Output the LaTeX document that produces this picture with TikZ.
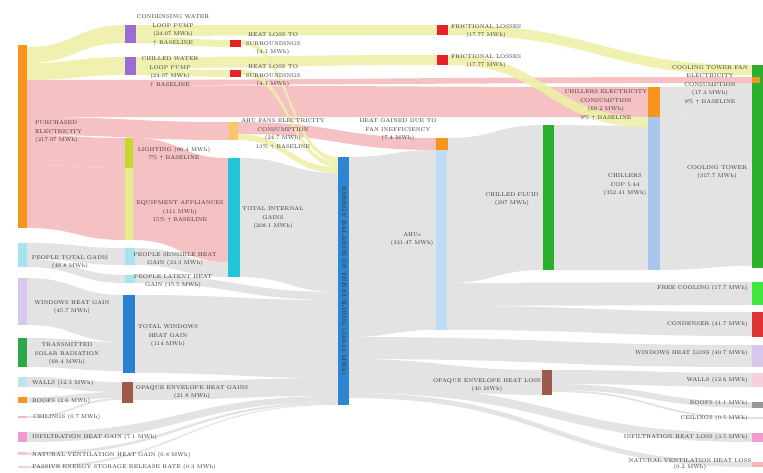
\documentclass[tikz,border=0pt]{standalone}
\usetikzlibrary{calc,backgrounds}

\definecolor{elec}{HTML}{F7941D}
\definecolor{pump}{HTML}{9C6CD6}
\definecolor{loss}{HTML}{E8202A}
\definecolor{lightg}{HTML}{C5D62E}
\definecolor{equipc}{HTML}{E6EC8A}
\definecolor{people}{HTML}{A8E4EF}
\definecolor{windowc}{HTML}{D9C8EC}
\definecolor{solar}{HTML}{2AA84A}
\definecolor{wallc}{HTML}{BFE3F0}
\definecolor{infc}{HTML}{F09AD0}
\definecolor{winblue}{HTML}{2A80D0}
\definecolor{opaque}{HTML}{9E5A48}
\definecolor{intern}{HTML}{22C4D8}
\definecolor{ahufan}{HTML}{F6C86A}
\definecolor{balance}{HTML}{2E86D0}
\definecolor{ahuc}{HTML}{BCDCF5}
\definecolor{chill}{HTML}{2AB02A}
\definecolor{copc}{HTML}{A9C6EF}
\definecolor{freec}{HTML}{3EE83E}
\definecolor{condc}{HTML}{E03535}
\definecolor{wallr}{HTML}{F8D0DC}
\definecolor{grayband}{HTML}{DEDEDE}
\definecolor{pinkband}{HTML}{F4B6B8}
\definecolor{yelband}{HTML}{EEF0A8}
\definecolor{txt}{HTML}{333333}

% flow band: from, top, bottom, to, top, bottom, style
\newcommand{\band}[7]{%
  \fill[#7] let \p1=(#1.east), \p2=(#4.west), \n1={0.5*(\x2-\x1)} in
    (\x1,#2) .. controls +(\n1,0) and +(-\n1,0) .. (\x2,#5)
    -- (\x2,#6) .. controls +(-\n1,0) and +(\n1,0) .. (\x1,#3) -- cycle;}

\begin{document}
\begin{tikzpicture}[
    x=1pt, y=-1pt,
    bar/.style={draw=none,inner sep=0pt,outer sep=0pt,anchor=north west,minimum width=10pt},
    lbl/.style={font=\fontsize{5.5}{8.5}\selectfont,text=txt,align=center,inner sep=0pt},
    gband/.style={fill=grayband,fill opacity=0.85},
    pband/.style={fill=pinkband,fill opacity=0.85},
    yband/.style={fill=yelband,fill opacity=0.9}
    ]
    \useasboundingbox (0,0) rectangle (763,472);

    % leftmost column:
    \node (pe) at (18,45) [bar,fill=elec,minimum width=9pt,minimum height=183pt] {};
    \node (ptg) at (18,243) [bar,fill=people,minimum width=9pt,minimum height=24pt] {};
    \node (whg) at (18,278) [bar,fill=windowc,minimum width=9pt,minimum height=47pt] {};
    \node (tsr) at (18,338) [bar,fill=solar,minimum width=9pt,minimum height=29pt] {};
    \node (wallsl) at (18,377) [bar,fill=wallc,minimum width=9pt,minimum height=10pt] {};
    \node (roofsl) at (18,397) [bar,fill=elec,minimum width=9pt,minimum height=6pt] {};
    \node (ceill) at (18,416) [bar,fill=pinkband,minimum width=9pt,minimum height=2pt] {};
    \node (infl) at (18,432) [bar,fill=infc,minimum width=9pt,minimum height=10pt] {};
    \node (natl) at (18,452) [bar,fill=infc!60,minimum width=9pt,minimum height=3pt] {};
    \node (passl) at (18,466) [bar,fill=pinkband!70,minimum width=9pt,minimum height=2pt] {};

    % second column:
    \node (cwp) at (125,25) [bar,fill=pump,minimum width=11pt,minimum height=18pt] {};
    \node (chwp) at (125,57) [bar,fill=pump,minimum width=11pt,minimum height=18pt] {};
    \node (light) at (125,138) [bar,fill=lightg,minimum width=8pt,minimum height=30pt] {};
    \node (equip) at (125,168) [bar,fill=equipc,minimum width=8pt,minimum height=72pt] {};
    \node (psh) at (125,248) [bar,fill=people,minimum height=17pt] {};
    \node (plh) at (125,275) [bar,fill=people,minimum height=8pt] {};
    \node (twhg) at (123,295) [bar,fill=winblue,minimum width=12pt,minimum height=78pt] {};
    \node (oehg) at (122,382) [bar,fill=opaque,minimum width=11pt,minimum height=21pt] {};

    % third column:
    \node (hl1) at (230,40) [bar,fill=loss,minimum width=11pt,minimum height=7pt] {};
    \node (hl2) at (230,70) [bar,fill=loss,minimum width=11pt,minimum height=7pt] {};
    \node (ahuf) at (229,122) [bar,fill=ahufan,minimum width=9pt,minimum height=18pt] {};
    \node (tig) at (228,158) [bar,fill=intern,minimum width=12pt,minimum height=119pt] {};

    % energy balance:
    \node (eb) at (338,157) [bar,fill=balance,minimum width=11pt,minimum height=248pt] {};

    % fifth column:
    \node (fl1) at (437,25) [bar,fill=loss,minimum width=11pt,minimum height=10pt] {};
    \node (fl2) at (437,55) [bar,fill=loss,minimum width=11pt,minimum height=10pt] {};
    \node (hgfi) at (436,138) [bar,fill=elec,minimum width=12pt,minimum height=12pt] {};
    \node (ahus) at (436,150) [bar,fill=ahuc,minimum width=11pt,minimum height=180pt] {};

    % sixth column:
    \node (cf) at (543,125) [bar,fill=chill,minimum width=11pt,minimum height=145pt] {};
    \node (oehl) at (542,370) [bar,fill=opaque,minimum height=25pt] {};

    % chillers:
    \node (chel) at (648,87) [bar,fill=elec,minimum width=12pt,minimum height=30pt] {};
    \node (cop) at (648,117) [bar,fill=copc,minimum width=12pt,minimum height=153pt] {};

    % rightmost column:
    \node (ct) at (752,65) [bar,fill=chill,minimum width=11pt,minimum height=203pt] {};
    \node (ctf) at (752,77) [bar,fill=elec,minimum width=8pt,minimum height=6pt] {};
    \node (fc) at (752,282) [bar,fill=freec,minimum width=11pt,minimum height=23pt] {};
    \node (cond) at (752,312) [bar,fill=condc,minimum width=11pt,minimum height=25pt] {};
    \node (whl) at (752,345) [bar,fill=windowc,minimum width=11pt,minimum height=22pt] {};
    \node (wallsr) at (752,373) [bar,fill=wallr,minimum width=11pt,minimum height=14pt] {};
    \node (roofsr) at (752,402) [bar,fill=gray!80,minimum width=11pt,minimum height=6pt] {};
    \node (ceilr) at (752,417) [bar,fill=grayband,minimum width=11pt,minimum height=2pt] {};
    \node (infr) at (752,433) [bar,fill=infc,minimum width=11pt,minimum height=9pt] {};
    \node (natr) at (752,462) [bar,fill=pinkband,minimum width=11pt,minimum height=5pt] {};

    % flows:
    \begin{pgfonlayer}{background}
    \band{ptg}{243}{259}{psh}{248}{265}{gband}
    \band{ptg}{259}{267}{plh}{275}{283}{gband}
    \band{psh}{248}{265}{tig}{262}{277}{gband}
    \band{whg}{278}{325}{twhg}{295}{342}{gband}
    \band{tsr}{338}{367}{twhg}{342}{371}{gband}
    \band{wallsl}{377}{387}{oehg}{382}{392}{gband}
    \band{roofsl}{397}{403}{oehg}{392}{398}{gband}
    \band{ceill}{416}{418}{oehg}{398}{400}{gband}
    \band{tig}{158}{277}{eb}{173}{292}{gband}
    \band{plh}{275}{283}{eb}{292}{300}{gband}
    \band{twhg}{295}{373}{eb}{300}{378}{gband}
    \band{oehg}{382}{400}{eb}{378}{396}{gband}
    \band{infl}{432}{442}{eb}{396}{402}{gband}
    \band{natl}{452}{455}{eb}{402}{404}{gband}
    \band{passl}{466}{468}{eb}{404}{405}{gband}
    \band{eb}{157}{337}{ahus}{150}{330}{gband}
    \band{eb}{337}{359}{whl}{345}{367}{gband}
    \band{eb}{359}{384}{oehl}{370}{395}{gband}
    \band{eb}{384}{393}{infr}{433}{442}{gband}
    \band{eb}{393}{398}{natr}{462}{467}{gband}
    \band{hgfi}{138}{150}{cf}{125}{137}{gband}
    \band{ahus}{150}{283}{cf}{137}{270}{gband}
    \band{ahus}{283}{306}{fc}{282}{305}{gband}
    \band{ahus}{306}{330}{cond}{312}{336}{gband}
    \band{cf}{125}{270}{cop}{126}{270}{gband}
    \band{oehl}{370}{384}{wallsr}{373}{387}{gband}
    \band{oehl}{384}{390}{roofsr}{402}{408}{gband}
    \band{oehl}{390}{392}{ceilr}{417}{419}{gband}
    \band{chel}{87}{117}{ct}{83}{113}{gband}
    \band{cop}{117}{270}{ct}{113}{266}{gband}

    \band{pe}{80}{85}{ctf}{77}{83}{pband}
    \band{pe}{85}{117}{chel}{87}{117}{pband}
    \band{pe}{117}{135}{ahuf}{122}{140}{pband}
    \band{pe}{135}{165}{light}{138}{168}{pband}
    \band{pe}{165}{228}{equip}{168}{240}{pband}
    \band{light}{138}{168}{tig}{158}{188}{pband}
    \band{equip}{168}{240}{tig}{188}{262}{pband}
    \band{ahuf}{122}{134}{hgfi}{138}{150}{pband}

    \band{pe}{47}{63}{cwp}{25}{43}{yband}
    \band{pe}{63}{80}{chwp}{57}{75}{yband}
    \band{cwp}{25}{36}{fl1}{25}{35}{yband}
    \band{cwp}{36}{43}{hl1}{40}{47}{yband}
    \band{chwp}{57}{68}{fl2}{55}{65}{yband}
    \band{chwp}{68}{75}{hl2}{70}{77}{yband}
    \band{fl1}{25}{35}{ct}{65}{75}{yband}
    \band{fl2}{55}{65}{cop}{117}{127}{yband}
    \band{hl1}{40}{45}{eb}{157}{162}{yband}
    \band{hl2}{70}{75}{eb}{162}{167}{yband}
    \band{ahuf}{134}{140}{eb}{167}{173}{yband}
    \end{pgfonlayer}

    % labels:
    \node (pe-l) at (35,132) [lbl,anchor=west,align=left] {PURCHASED\\ELECTRICITY\\(217.97 MWh)};
    \node (cwp-l) at (173,30) [lbl] {CONDENSING WATER\\LOOP PUMP\\(24.07 MWh)\\$\uparrow$ BASELINE};
    \node (chwp-l) at (170,72) [lbl] {CHILLED WATER\\LOOP PUMP\\(24.07 MWh)\\$\uparrow$ BASELINE};
    \node (hl1-l) at (273,44) [lbl] {HEAT LOSS TO\\SURROUNDINGS\\(4.1 MWh)};
    \node (hl2-l) at (273,76) [lbl] {HEAT LOSS TO\\SURROUNDINGS\\(4.1 MWh)};
    \node (fl1-l) at (486,31) [lbl] {FRICTIONAL LOSSES\\(17.77 MWh)};
    \node (fl2-l) at (486,61) [lbl] {FRICTIONAL LOSSES\\(17.77 MWh)};
    \node (ahuf-l) at (283,134) [lbl] {AHU FANS ELECTRICITY\\CONSUMPTION\\(24.7 MWh)\\13\% $\uparrow$ BASELINE};
    \node (hgfi-l) at (398,130) [lbl] {HEAT GAINED DUE TO\\FAN INEFFICIENCY\\(7.4 MWh)};
    \node (chel-l) at (606,105) [lbl] {CHILLERS ELECTRICITY\\CONSUMPTION\\(69.2 MWh)\\9\% $\uparrow$ BASELINE};
    \node (ctf-l) at (710,85) [lbl] {COOLING TOWER FAN\\ELECTRICITY\\CONSUMPTION\\(17.3 MWh)\\9\% $\uparrow$ BASELINE};
    \node (ct-l) at (717,172) [lbl] {COOLING TOWER\\(317.7 MWh)};
    \node (cop-l) at (625,185) [lbl] {CHILLERS\\COP 5.44\\(352.41 MWh)};
    \node (cf-l) at (512,199) [lbl] {CHILLED FLUID\\(297 MWh)};
    \node (ahus-l) at (412,239) [lbl] {AHUs\\(331.47 MWh)};
    \node (tig-l) at (273,218) [lbl] {TOTAL INTERNAL\\GAINS\\(208.1 MWh)};
    \node (eb-l) at (343.5,281) [lbl,rotate=-90,font=\fontsize{6}{7}\selectfont] {ENERGY BALANCE OF THE BUILDING (348.12 MWh)};
    \node (light-l) at (174,154) [lbl] {LIGHTING (80.4 MWh)\\7\% $\uparrow$ BASELINE};
    \node (equip-l) at (180,212) [lbl] {EQUIPMENT APPLIANCES\\(111 MWh)\\15\% $\uparrow$ BASELINE};
    \node (ptg-l) at (70,262) [lbl] {PEOPLE TOTAL GAINS\\(48.8 MWh)};
    \node (psh-l) at (175,259) [lbl] {PEOPLE SENSIBLE HEAT\\GAIN (33.3 MWh)};
    \node (plh-l) at (173,281) [lbl] {PEOPLE LATENT HEAT\\GAIN (15.5 MWh)};
    \node (whg-l) at (72,307) [lbl] {WINDOWS HEAT GAIN\\(45.7 MWh)};
    \node (tsr-l) at (67,354) [lbl] {TRANSMITTED\\SOLAR RADIATION\\(68.4 MWh)};
    \node (twhg-l) at (168,336) [lbl] {TOTAL WINDOWS\\HEAT GAIN\\(114 MWh)};
    \node (oehg-l) at (192,392) [lbl] {OPAQUE ENVELOPE HEAT GAINS\\(21.8 MWh)};
    \node (wallsl-l) at (32,383) [lbl,anchor=west] {WALLS (12.3 MWh)};
    \node (roofsl-l) at (32,401) [lbl,anchor=west] {ROOFS (2.6 MWh)};
    \node (ceill-l) at (33,417) [lbl,anchor=west] {CEILINGS (0.7 MWh)};
    \node (infl-l) at (32,437) [lbl,anchor=west] {INFILTRATION HEAT GAIN (7.1 MWh)};
    \node (natl-l) at (32,455) [lbl,anchor=west] {NATURAL VENTILATION HEAT GAIN (0.8 MWh)};
    \node (passl-l) at (32,467) [lbl,anchor=west] {PASSIVE ENERGY STORAGE RELEASE RATE (0.3 MWh)};
    \node (oehl-l) at (487,385) [lbl] {OPAQUE ENVELOPE HEAT LOSS\\(40 MWh)};
    \node (fc-l) at (748,288) [lbl,anchor=east] {FREE COOLING (17.7 MWh)};
    \node (cond-l) at (748,324) [lbl,anchor=east] {CONDENSER (41.7 MWh)};
    \node (whl-l) at (748,353) [lbl,anchor=east] {WINDOWS HEAT LOSS (40.7 MWh)};
    \node (wallsr-l) at (748,380) [lbl,anchor=east] {WALLS (12.6 MWh)};
    \node (roofsr-l) at (748,403) [lbl,anchor=east] {ROOFS (1.1 MWh)};
    \node (ceilr-l) at (748,418) [lbl,anchor=east] {CEILINGS (0.5 MWh)};
    \node (infr-l) at (748,437) [lbl,anchor=east] {INFILTRATION HEAT LOSS (3.5 MWh)};
    \node (natr-l) at (690,464) [lbl,font=\fontsize{5.5}{6.5}\selectfont] {NATURAL VENTILATION HEAT LOSS\\(0.2 MWh)};

  \end{tikzpicture}
\end{document}
